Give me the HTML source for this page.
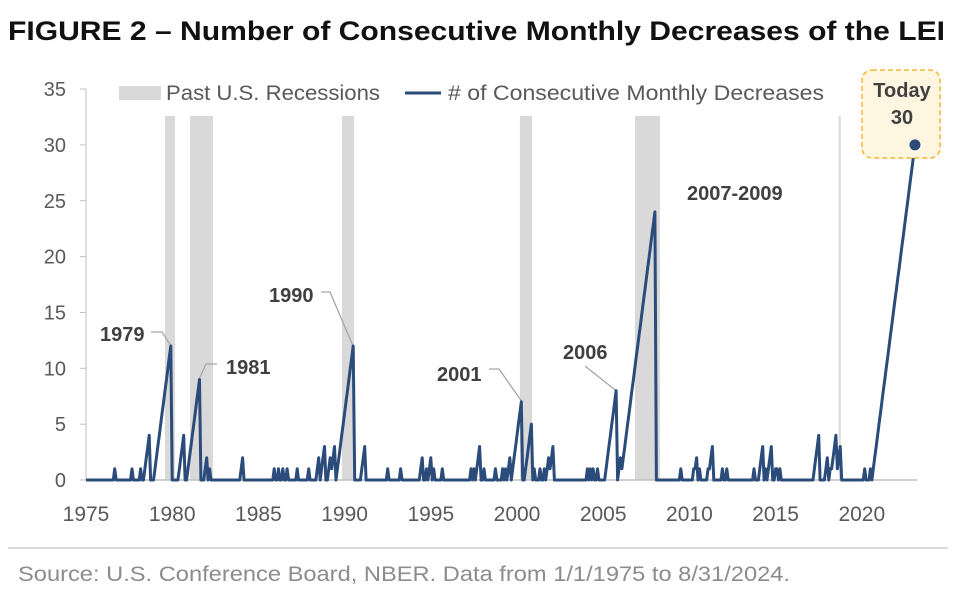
<!DOCTYPE html>
<html><head><meta charset="utf-8"><style>
body{margin:0;background:#fff;}
svg text{font-family:"Liberation Sans",Arial,sans-serif;}
</style></head><body>
<svg width="958" height="591" viewBox="0 0 958 591">
<text x="8" y="40" font-size="27" font-weight="bold" fill="#111" textLength="937" lengthAdjust="spacingAndGlyphs">FIGURE 2 – Number of Consecutive Monthly Decreases of the LEI</text>
<g id="rec"></g>
<g id="axes"></g>
<g id="ann"></g>
<path id="series" fill="none" stroke="#2B4C7A" stroke-width="3" stroke-linejoin="round"/>
<g>
<rect x="119" y="86" width="42" height="14" fill="#D9D9D9"/>
<text x="166" y="100" font-size="21" fill="#595959" textLength="214" lengthAdjust="spacingAndGlyphs">Past U.S. Recessions</text>
<line x1="405" y1="93" x2="441" y2="93" stroke="#2B4C7A" stroke-width="3"/>
<text x="448" y="100" font-size="21" fill="#595959" textLength="376" lengthAdjust="spacingAndGlyphs"># of Consecutive Monthly Decreases</text>
</g>
<rect x="862" y="70" width="78" height="88" rx="10" fill="#FEF6E0" stroke="#F5B935" stroke-width="1.6" stroke-dasharray="5,3"/>
<text x="902" y="97" font-size="20" font-weight="bold" fill="#404040" text-anchor="middle">Today</text>
<text x="902" y="124" font-size="20" font-weight="bold" fill="#404040" text-anchor="middle">30</text>
<circle id="lastdot" r="5.5" fill="#2B4C7A"/>
<line x1="8" y1="548" x2="948" y2="548" stroke="#bbb" stroke-width="1"/>
<text x="18" y="581" font-size="21" fill="#8c8c8c" textLength="772" lengthAdjust="spacingAndGlyphs">Source: U.S. Conference Board, NBER. Data from 1/1/1975 to 8/31/2024.</text>
</svg>
<script>
const peakDates=[1976.68,1977.67,1978.13,1978.65,1979.93,1980.63,1981.55,1981.96,1982.13,1984.05,1985.90,1986.19,1986.43,1986.66,1987.24,1987.88,1988.51,1988.86,1989.15,1989.44,1990.49,1991.18,1992.46,1993.27,1994.49,1994.72,1995.01,1995.19,1995.65,1997.33,1997.51,1997.85,1998.09,1998.78,1999.13,1999.36,1999.59,2000.29,2000.87,2001.04,2001.33,2001.62,2001.80,2002.09,2004.12,2004.23,2004.41,2004.64,2005.74,2005.97,2008.01,2009.51,2010.21,2010.38,2010.61,2011.08,2011.37,2011.89,2012.18,2013.75,2014.27,2014.44,2014.73,2014.97,2015.08,2015.26,2017.46,2018.04,2018.33,2018.56,2018.79,2020.19,2020.48,2023.09];
const peakValues=[1,1,1,4,12,4,9,2,1,2,1,1,1,1,1,1,2,3,2,3,12,3,1,1,2,1,2,1,1,1,1,3,1,1,1,1,2,7,5,1,1,1,2,3,1,1,1,1,8,2,24,1,1,2,1,1,3,1,1,1,3,1,3,1,1,1,4,2,3,5,3,1,1,30];
const recStart=[1979.58,1981.03,1989.85,2000.17,2006.84,2018.66];
const recEnd=[1980.16,1982.37,1990.55,2000.87,2008.29,2018.78];
const yTicks=[0,5,10,15,20,25,30,35];
const xTicks=[1975,1980,1985,1990,1995,2000,2005,2010,2015,2020];
const X=y=>86+(y-1975)*17.24, Y=v=>480-v*11.17;
const NS='http://www.w3.org/2000/svg';
function mk(t,a,p){const e=document.createElementNS(NS,t);for(const k in a)e.setAttribute(k,a[k]);p.appendChild(e);return e;}
const rec=document.getElementById('rec');
recStart.forEach((s,i)=>{const r=mk('rect',{x:X(s),y:116,width:Math.max(1.5,X(recEnd[i])-X(s)),height:Y(0)-116,fill:'#D9D9D9'},rec);

});
const ax=document.getElementById('axes');
mk('line',{x1:86,y1:Y(0),x2:917,y2:Y(0),stroke:'#bfbfbf','stroke-width':1.5},ax);
mk('line',{x1:86,y1:Y(0),x2:86,y2:Y(35),stroke:'#bfbfbf','stroke-width':1},ax);
yTicks.forEach(v=>{mk('line',{x1:80,y1:Y(v),x2:86,y2:Y(v),stroke:'#bfbfbf'},ax);
const t=mk('text',{x:66,y:Y(v)+7,'font-size':20,fill:'#595959','text-anchor':'end'},ax);t.textContent=v;

});
xTicks.forEach(v=>{const t=mk('text',{x:X(v),y:521,'font-size':21,fill:'#595959','text-anchor':'middle'},ax);t.textContent=v;

});
const last=Math.round((peakDates[peakDates.length-1]-1975)*12);
const vals=new Array(last+1).fill(0);
peakDates.forEach((d,i)=>{const idx=Math.round((d-1975)*12);for(let k=0;k<peakValues[i];k++){if(idx-k>=0)vals[idx-k]=peakValues[i]-k;}});
let dstr='';vals.forEach((v,i)=>{dstr+=(i?'L':'M')+X(1975+i/12).toFixed(1)+','+Y(v).toFixed(1);});
document.getElementById('series').setAttribute('d',dstr);
const dot=document.getElementById('lastdot');dot.setAttribute('cx',X(1975+last/12));dot.setAttribute('cy',Y(vals[last]));
const ann=document.getElementById('ann');
const labels=[['1979',100,341,[[151,332],[162,332],[X(1979.93),Y(12)]]],['1981',226,374,[[217,364],[206,364],[X(1981.55),Y(9)]]],['1990',269,302,[[321,292],[330,292],[X(1990.49),Y(12)]]],['2001',437,381,[[489,369],[499,369],[X(2000.29),Y(7)]]],['2006',563,359,[[585,366],[X(2005.74),Y(8)]]],['2007-2009',687,200,[]]];
labels.forEach(l=>{const t=mk('text',{x:l[1],y:l[2],'font-size':20,'font-weight':'bold',fill:'#404040'},ann);t.textContent=l[0];


if(l[3].length){mk('polyline',{points:l[3].map(p=>p.join(',')).join(' '),fill:'none',stroke:'#a6a6a6','stroke-width':1.3},ann);}});
</script>
</body></html>
